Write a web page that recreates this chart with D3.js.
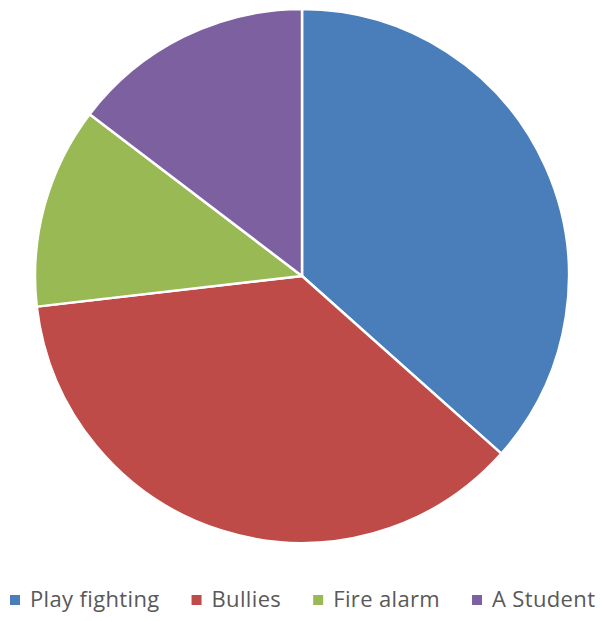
<!DOCTYPE html>
<html>
<head>
<meta charset="utf-8">
<script src="https://cdn.jsdelivr.net/npm/d3@7"></script>
<style>
  body { margin: 0; background: #fff; }
</style>
</head>
<body>
<script>
// chart data
var categories = ["Play fighting", "Bullies", "Fire alarm", "A Student"];
var values = [15, 15, 5, 6];
var colors = ["#4a7ebb", "#be4b48", "#98b954", "#7d60a0"];

var width = 601, height = 621;
var cx = 302, cy = 276, radius = 267;

var svg = d3.select("body")
    .append("svg")
    .attr("width", width)
    .attr("height", height);

var data = categories.map(function(c, i) {
    return { name: c, value: values[i], color: colors[i] };
});

var pie = d3.pie()
    .sort(null)
    .value(function(d) { return d.value; });

var arc = d3.arc()
    .innerRadius(0)
    .outerRadius(radius);

var g = svg.append("g")
    .attr("transform", "translate(" + cx + "," + cy + ")");

g.selectAll(".slice")
    .data(pie(data))
    .enter()
    .append("path")
    .attr("class", "slice")
    .attr("d", arc)
    .attr("fill", function(d) { return d.data.color; })
    .attr("stroke", "#fff")
    .attr("stroke-width", 2.5)
    .attr("stroke-linejoin", "round");

// legend, laid out left to right from measured text widths
var legend = svg.append("g").attr("class", "legend");
var x = 10;
data.forEach(function(d) {
    var item = legend.append("g").attr("transform", "translate(" + x + ",0)");
    item.append("rect")
        .attr("x", 0)
        .attr("y", 595)
        .attr("width", 10)
        .attr("height", 10)
        .attr("fill", d.color);
    var t = item.append("text")
        .attr("x", 20)
        .attr("y", 607)
        .style("font-family", "'Open Sans', sans-serif")
        .style("font-size", "22px")
        .style("letter-spacing", "0.35px")
        .style("fill", "#595959")
        .text(d.name);
    x += 20 + t.node().getComputedTextLength() + 32;
});
</script>
</body>
</html>
